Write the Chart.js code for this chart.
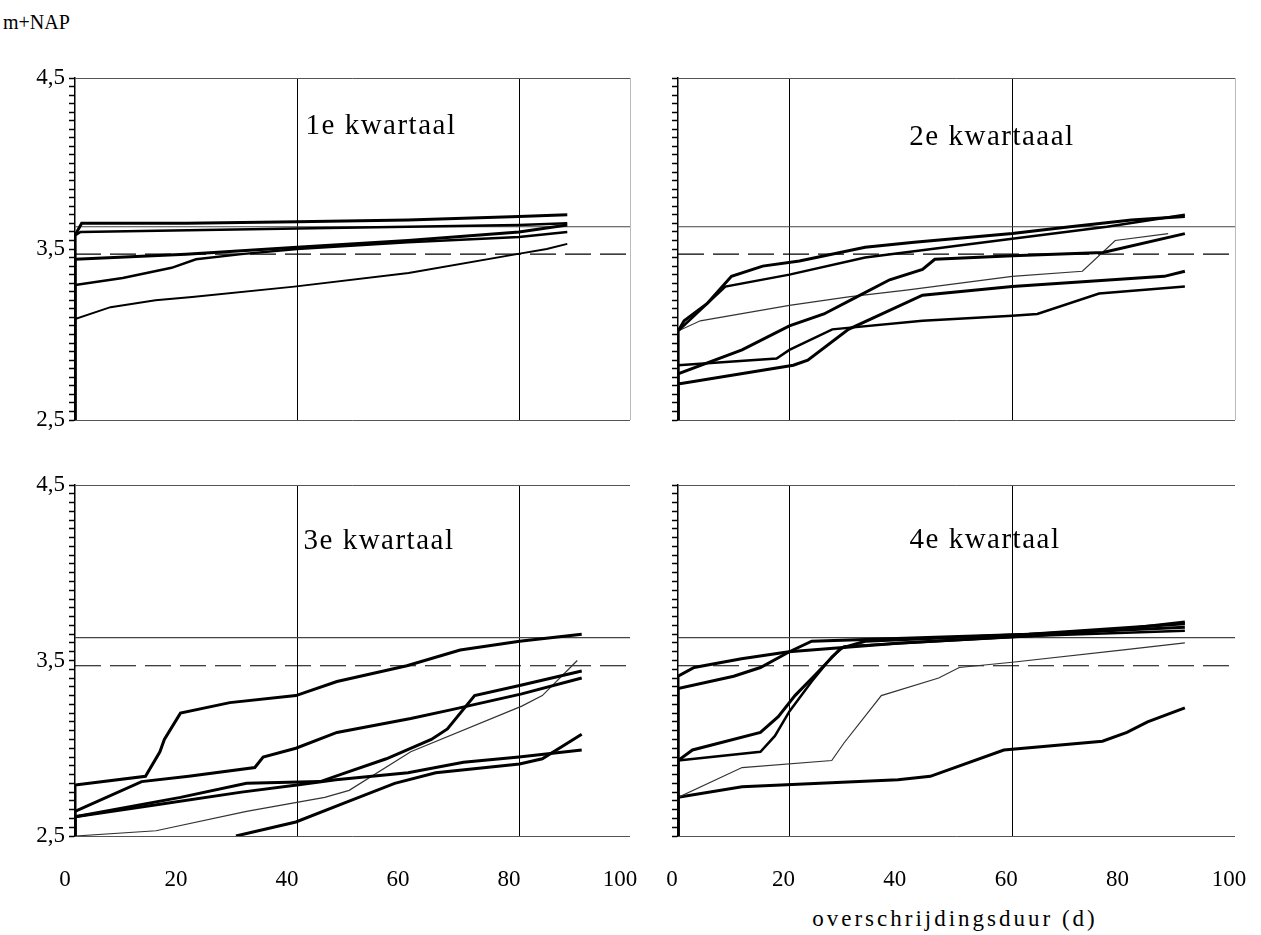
<!DOCTYPE html>
<html>
<head>
<meta charset="utf-8">
<script src="https://cdn.jsdelivr.net/npm/chart.js@4/dist/chart.umd.min.js"></script>
<style>
  body { margin: 0; background: #fff; }
  #page { position: relative; width: 1261px; height: 935px; background: #fff; overflow: hidden;
          font-family: 'Liberation Serif', 'DejaVu Serif', serif; color: #000; }
  canvas { position: absolute; }
  .txt { position: absolute; white-space: nowrap; }
  .title { font-size: 29px; letter-spacing: 1.5px; transform: translate(-50%, -50%); }
</style>
</head>
<body>
<div id="page">
  <div class="txt" style="left:3px;top:11px;font-size:20px;">m+NAP</div>
  <canvas id="q1" width="660" height="372" style="left:0;top:58px"></canvas>
  <canvas id="q2" width="657" height="372" style="left:603px;top:58px"></canvas>
  <canvas id="q3" width="660" height="431" style="left:0;top:465px"></canvas>
  <canvas id="q4" width="657" height="431" style="left:603px;top:465px"></canvas>
  <div class="txt title" style="left:381px;top:124px">1e kwartaal</div>
  <div class="txt title" style="left:992px;top:135px">2e kwartaaal</div>
  <div class="txt title" style="left:379px;top:539px">3e kwartaal</div>
  <div class="txt title" style="left:985px;top:538px">4e kwartaal</div>
  <div class="txt" style="left:955px;top:919px;font-size:23px;letter-spacing:3px;transform:translate(-50%,-50%)">overschrijdingsduur (d)</div>
</div>
<script>
// waterstand (m+NAP) tegen overschrijdingsduur (dagen), per kwartaal
const X_TICKS = [0, 20, 40, 60, 80, 100];
const Y_LABELED = [2.5, 3.5, 4.5];
const LEVEL_SOLID = 3.63;
const LEVEL_DASHED = 3.47;
const GRID_LEFT = [40, 80];
const GRID_RIGHT = [20, 60];

// [dagen, m+NAP]
const Q1_A = [[0,2.5],[0,3.58],[1.2,3.65],[20,3.65],[40,3.66],[60,3.67],[80,3.69],[88.7,3.70]];
const Q1_B = [[0,2.5],[0,3.58],[1,3.60],[40,3.62],[80,3.64],[88.7,3.65]];
const Q1_C = [[0,2.5],[0,3.44],[20,3.47],[40,3.51],[60,3.55],[80,3.60],[88.7,3.64]];
const Q1_D = [[0,2.5],[0,3.29],[8.6,3.33],[17.4,3.39],[21.8,3.44],[30,3.47],[40,3.50],[60,3.54],[80,3.57],[88.7,3.60]];
const Q1_E = [[0,2.5],[0,3.09],[6.4,3.16],[14.5,3.20],[21.1,3.22],[39.5,3.28],[60.1,3.36],[79.6,3.47],[85,3.50],[88.7,3.53]];

const Q2_A = [[0,2.5],[0,3.02],[1.1,3.08],[5.2,3.18],[9.6,3.34],[15.2,3.40],[21.8,3.43],[33.6,3.51],[42.4,3.54],[60,3.59],[70.4,3.63],[81.4,3.67],[91,3.69]];
const Q2_B = [[0,2.5],[0,3.02],[8.5,3.28],[20,3.35],[33.6,3.45],[60,3.56],[77,3.63],[91,3.70]];
const Q2_C = [[0,2.5],[0,2.77],[11.5,2.91],[20,3.05],[26.2,3.12],[32.1,3.22],[38,3.32],[43.9,3.38],[46.1,3.44],[60.1,3.46],[76.3,3.48],[91,3.59]];
const Q2_D = [[0,2.5],[0,3.02],[4,3.08],[20,3.17],[30.6,3.22],[41,3.26],[60,3.34],[72.6,3.37],[78.5,3.55],[88,3.59]];
const Q2_E = [[0,2.5],[0,2.82],[17.7,2.86],[20,2.91],[27.7,3.03],[43.9,3.08],[60,3.11],[64.5,3.12],[75.6,3.24],[91,3.28]];
const Q2_F = [[0,2.5],[0,2.71],[20.7,2.82],[23.3,2.85],[30.6,3.03],[43.9,3.23],[60,3.28],[87.3,3.34],[91,3.37]];

const Q3_A = [[0,2.5],[0,2.79],[12.7,2.84],[15.3,2.98],[16.1,3.05],[19,3.20],[27.9,3.26],[39.8,3.30],[47.2,3.38],[59.8,3.47],[69.4,3.56],[80.1,3.61],[91.3,3.65]];
const Q3_B = [[0,2.5],[0,2.64],[12,2.81],[20.5,2.84],[32.4,2.89],[33.9,2.95],[39.8,3.00],[47.2,3.09],[60.5,3.17],[67.9,3.22],[80.5,3.31],[91.3,3.40]];
const Q3_C = [[0,2.5],[0,2.61],[19,2.72],[30.9,2.80],[44.2,2.81],[48.7,2.86],[56.1,2.94],[64.2,3.05],[67.1,3.11],[72,3.30],[80.5,3.36],[91.3,3.44]];
const Q3_D = [[0,2.5],[0,2.61],[15,2.68],[30,2.75],[40,2.79],[47,2.82],[60,2.86],[70,2.92],[80,2.95],[91.3,2.99]];
const Q3_E = [[0,2.5],[14.6,2.53],[30.9,2.64],[45,2.72],[49.4,2.76],[60.5,2.98],[80.5,3.24],[84.2,3.30],[90.5,3.50]];
const Q3_F = [[29,2.5],[39.8,2.58],[48.7,2.69],[57.6,2.80],[65,2.86],[80.1,2.91],[84.2,2.94],[91.3,3.08]];

const Q4_A = [[0,2.5],[0,3.41],[2.9,3.46],[11.4,3.51],[19.9,3.55],[40,3.60],[63,3.64],[80,3.68],[91,3.72]];
const Q4_B = [[0,2.5],[0,3.34],[10,3.41],[14.8,3.46],[20,3.55],[24,3.61],[33.6,3.62],[63,3.65],[91,3.71]];
const Q4_C = [[0,2.5],[0,2.93],[2.6,2.99],[14.8,3.09],[18,3.18],[21,3.30],[24.7,3.42],[29.2,3.57],[33.6,3.61],[63,3.65],[91,3.69]];
const Q4_D = [[0,2.5],[0,2.93],[14.8,2.98],[17.4,3.07],[20,3.21],[24,3.38],[27.6,3.52],[29.8,3.58],[63,3.64],[91,3.67]];
const Q4_E = [[0,2.5],[0,2.72],[11.5,2.89],[27.6,2.93],[29.8,3.03],[36.5,3.30],[46.8,3.40],[50.5,3.46],[60,3.49],[80,3.56],[91,3.60]];
const Q4_F = [[0,2.5],[0,2.72],[11.5,2.78],[39.5,2.82],[45.3,2.84],[58.5,2.99],[76.2,3.04],[80.6,3.09],[84.3,3.15],[91,3.23]];

const SERIF = "'Liberation Serif','DejaVu Serif',serif";

function curve(pts, w) {
  return {
    data: pts.map(p => ({ x: p[0], y: p[1] })),
    borderColor: w < 2 ? '#333' : '#000', borderWidth: w,
    pointRadius: 0, tension: 0, fill: false
  };
}

function level(y, dash, color) {
  return {
    data: [{ x: 0, y: y }, { x: 100, y: y }],
    borderColor: color, borderWidth: 1.2, borderDash: dash,
    pointRadius: 0, fill: false
  };
}

const near = (a, b) => Math.abs(a - b) < 1e-6;

// keep the plot area fixed, whatever the labels need
function fixBox(size, key) {
  return s => {
    s[key] = size;
    s.paddingLeft = 0; s.paddingRight = 0; s.paddingTop = 0; s.paddingBottom = 0;
  };
}

function makePanel(id, curves, o) {
  const datasets = curves.concat([
    level(LEVEL_SOLID, [], '#444'),
    level(LEVEL_DASHED, [26, 9], '#000')
  ]);
  new Chart(document.getElementById(id), {
    type: 'line',
    data: { datasets: datasets },
    options: {
      responsive: false, animation: false, devicePixelRatio: 1,
      layout: { padding: { top: 20, right: o.padRight, left: 0, bottom: 0 } },
      plugins: { legend: { display: false }, tooltip: { enabled: false } },
      scales: {
        x: {
          type: 'linear', min: 0, max: 100,
          afterFit: fixBox(o.xHeight, 'height'),
          border: { display: false },
          grid: {
            drawTicks: false, lineWidth: 1,
            color: c => o.grid.includes(c.tick.value) ? '#000'
                      : (o.rightEdge && c.tick.value === 100 ? '#bbb' : 'rgba(0,0,0,0)')
          },
          ticks: {
            display: o.xLabels, stepSize: 20, padding: 30, labelOffset: o.labelOffset,
            color: '#000', font: { family: SERIF, size: 23 },
            callback: v => X_TICKS.includes(v) ? String(v) : ''
          }
        },
        y: {
          min: 2.5, max: 4.5,
          afterFit: fixBox(75, 'width'),
          border: { color: '#000', width: 1.5 },
          grid: {
            lineWidth: 1, tickLength: 6, tickWidth: 1.5, tickColor: '#000',
            color: c => (near(c.tick.value, 2.5) || near(c.tick.value, 4.5)) ? '#555' : 'rgba(0,0,0,0)'
          },
          ticks: {
            stepSize: 0.05, autoSkip: false, padding: 4,
            color: '#000', font: { family: SERIF, size: 23 },
            callback: v => (o.yLabels && Y_LABELED.some(t => near(t, v))) ? v.toFixed(1).replace('.', ',') : ''
          }
        }
      }
    }
  });
}

makePanel('q1', [curve(Q1_A, 3), curve(Q1_B, 2.5), curve(Q1_C, 3), curve(Q1_D, 2.5), curve(Q1_E, 2)],
  { grid: GRID_LEFT, xLabels: false, yLabels: true, padRight: 30, xHeight: 10, labelOffset: 0, rightEdge: true });
makePanel('q2', [curve(Q2_A, 3), curve(Q2_B, 2.5), curve(Q2_C, 3), curve(Q2_D, 1.2), curve(Q2_E, 2.5), curve(Q2_F, 3)],
  { grid: GRID_RIGHT, xLabels: false, yLabels: false, padRight: 25, xHeight: 10, labelOffset: 0, rightEdge: true });
makePanel('q3', [curve(Q3_A, 3), curve(Q3_B, 3), curve(Q3_C, 3), curve(Q3_D, 3), curve(Q3_E, 1.2), curve(Q3_F, 3)],
  { grid: GRID_LEFT, xLabels: true, yLabels: true, padRight: 30, xHeight: 60, labelOffset: -10, rightEdge: false });
makePanel('q4', [curve(Q4_A, 3), curve(Q4_B, 3), curve(Q4_C, 3), curve(Q4_D, 2.5), curve(Q4_E, 1.2), curve(Q4_F, 3)],
  { grid: GRID_RIGHT, xLabels: true, yLabels: false, padRight: 25, xHeight: 60, labelOffset: -6, rightEdge: false });
</script>
</body>
</html>
